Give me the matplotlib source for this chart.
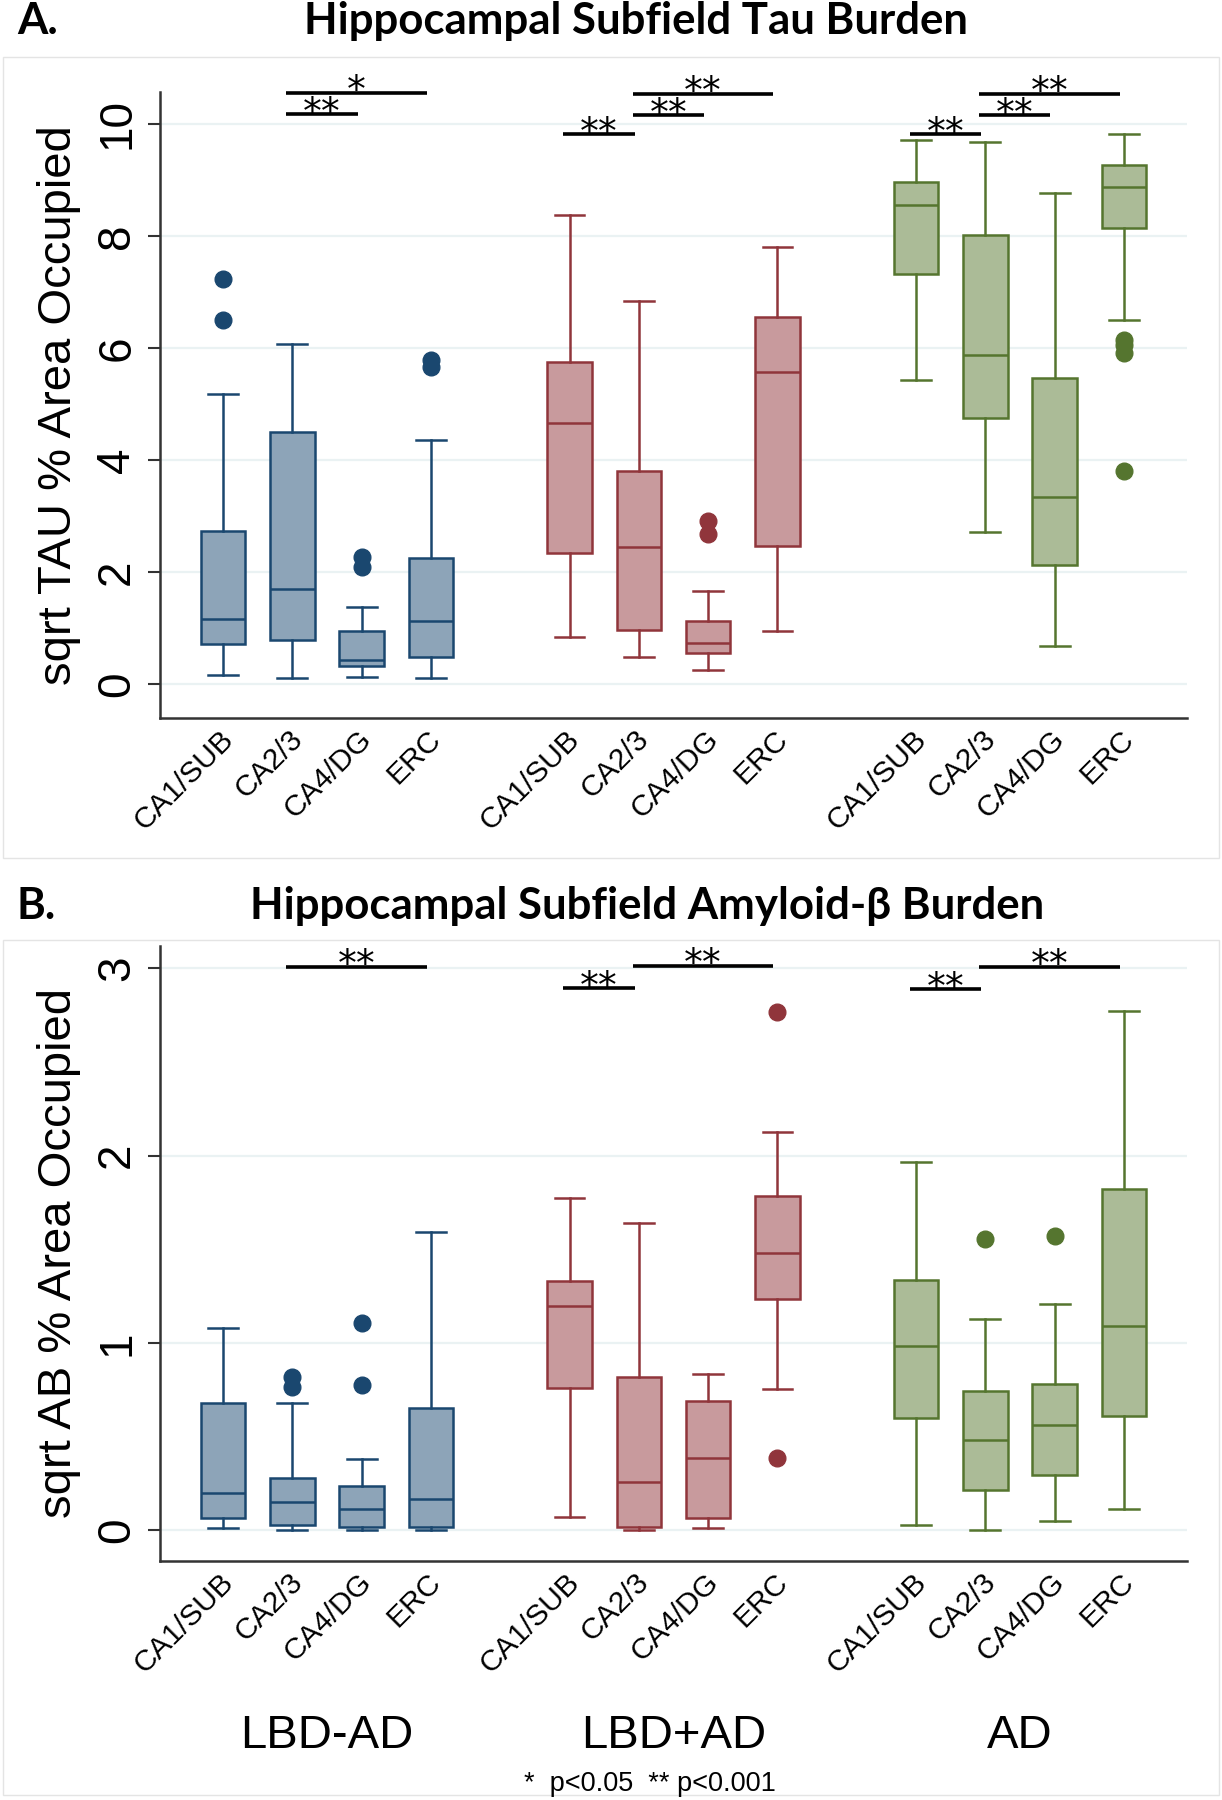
import matplotlib
matplotlib.use("Agg")
import matplotlib.pyplot as plt
import matplotlib.transforms as mtransforms
from matplotlib.patches import Rectangle

regions = ["CA1/SUB", "CA2/3", "CA4/DG", "ERC"]
groups = ["LBD-AD", "LBD+AD", "AD"]
edge_colors = ["#1A476F", "#90353B", "#55752F"]
fill_colors = ["#8DA4B8", "#C89A9D", "#ABBB97"]

# Tau panel, order: LBD-AD x4, LBD+AD x4, AD x4
tau_lo = [0.16, 0.12, 0.14, 0.12, 0.84, 0.48, 0.25, 0.96, 5.43, 2.71, 0.69, 6.51]
tau_q1 = [0.72, 0.80, 0.32, 0.48, 2.35, 0.97, 0.56, 2.47, 7.33, 4.76, 2.13, 8.14]
tau_med = [1.17, 1.71, 0.44, 1.13, 4.66, 2.45, 0.73, 5.58, 8.55, 5.87, 3.35, 8.88]
tau_q3 = [2.73, 4.50, 0.96, 2.25, 5.76, 3.80, 1.13, 6.55, 8.96, 8.01, 5.47, 9.27]
tau_hi = [5.18, 6.07, 1.38, 4.36, 8.37, 6.84, 1.67, 7.81, 9.71, 9.68, 8.76, 9.82]
tau_out = [[6.51, 7.24], [], [2.10, 2.27], [5.67, 5.78],
           [], [], [2.69, 2.91], [],
           [], [], [], [6.15, 6.05, 5.92, 3.80]]

# Amyloid-beta panel
ab_lo = [0.011, 0.0, 0.0, 0.0, 0.072, 0.0, 0.011, 0.754, 0.028, 0.0, 0.05, 0.116]
ab_q1 = [0.066, 0.03, 0.02, 0.02, 0.76, 0.02, 0.066, 1.234, 0.60, 0.214, 0.295, 0.612]
ab_med = [0.20, 0.15, 0.116, 0.168, 1.195, 0.256, 0.387, 1.479, 0.983, 0.48, 0.562, 1.092]
ab_q3 = [0.68, 0.28, 0.234, 0.655, 1.33, 0.82, 0.688, 1.785, 1.337, 0.743, 0.782, 1.82]
ab_hi = [1.08, 0.68, 0.378, 1.595, 1.775, 1.64, 0.837, 2.126, 1.966, 1.13, 1.208, 2.775]
ab_out = [[], [0.765, 0.82], [0.776, 1.108], [],
          [], [], [], [2.77, 0.387],
          [], [1.558], [1.569], []]

# significance bars: (box i, box j, label, height)
tau_bars = [(1, 2, "**", 10.17), (1, 3, "*", 10.56),
            (4, 5, "**", 9.82), (5, 6, "**", 10.16), (5, 7, "**", 10.54),
            (8, 9, "**", 9.82), (9, 10, "**", 10.16), (9, 11, "**", 10.54)]
ab_bars = [(1, 3, "**", 3.01),
           (4, 5, "**", 2.895), (5, 7, "**", 3.015),
           (8, 9, "**", 2.89), (9, 11, "**", 3.01)]

positions = [g * 5 + r for g in range(3) for r in range(4)]
W, H = 1222, 1800

fig = plt.figure(figsize=(12.22, 18), dpi=100)
fig.patch.set_facecolor("white")

# faint outer frames of each graph
for y0, y1 in [(57, 858), (940, 1795)]:
    fig.add_artist(Rectangle((3 / W, 1 - y1 / H), (W - 6) / W, (y1 - y0) / H,
                             transform=fig.transFigure, fill=False,
                             ec="#E4E4E4", lw=1.0))


def draw_panel(rect, lo, q1, med, q3, hi, out, bars, ylim, yticks, ylabel):
    ax = fig.add_axes(rect)
    stats = []
    for i in range(12):
        stats.append(dict(whislo=lo[i], q1=q1[i], med=med[i], q3=q3[i],
                          whishi=hi[i], fliers=out[i]))
    for g in range(3):
        sl = slice(g * 4, g * 4 + 4)
        ec = edge_colors[g]
        ax.bxp(stats[sl], positions=positions[sl], widths=0.645, capwidths=0.43,
               patch_artist=True, manage_ticks=False,
               boxprops=dict(facecolor=fill_colors[g], edgecolor=ec, linewidth=1.8),
               medianprops=dict(color=ec, linewidth=1.8),
               whiskerprops=dict(color=ec, linewidth=1.8),
               capprops=dict(color=ec, linewidth=1.8),
               flierprops=dict(marker="o", markerfacecolor=ec, markeredgecolor=ec,
                               markersize=12, linestyle="none"))
    ax.set_xlim(-0.91, 13.91)
    ax.set_ylim(*ylim)
    ax.set_yticks(yticks)
    ax.set_yticklabels([str(t) for t in yticks], rotation=90, va="center",
                       fontsize=33, family="Liberation Sans")
    ax.yaxis.grid(True, color="#EAF2F3", linewidth=1.6)
    ax.set_axisbelow(True)
    ax.tick_params(axis="y", length=9, width=1.5, color="#333333", pad=6)
    ax.tick_params(axis="x", length=0, pad=5)
    ax.set_xticks(positions)
    labs = ax.set_xticklabels(regions * 3, rotation=45, ha="right", va="top",
                              rotation_mode="anchor", fontsize=21.5,
                              family="Liberation Sans")
    shift = mtransforms.ScaledTranslation(-4 / 100, 0, fig.dpi_scale_trans)
    for t in labs:
        t.set_transform(t.get_transform() + shift)
    for s in ["top", "right"]:
        ax.spines[s].set_visible(False)
    for s in ["left", "bottom"]:
        ax.spines[s].set_color("#333333")
        ax.spines[s].set_linewidth(1.8)
    ax.set_ylabel(ylabel, fontsize=34, family="Liberation Sans", labelpad=10)

    for i, j, lab, h in bars:
        x0 = positions[i] - 0.09
        x1 = positions[j] - 0.06
        ax.plot([x0, x1], [h, h], color="black", linewidth=2.6,
                solid_capstyle="butt", clip_on=False)
        ax.annotate(lab, ((x0 + x1) / 2, h), xytext=(0, -7),
                    textcoords="offset points", ha="center", va="baseline",
                    fontsize=27, family="DejaVu Sans", annotation_clip=False)
    return ax


axA = draw_panel([160 / W, 1 - 718 / H, 1027 / W, 626 / H],
                 tau_lo, tau_q1, tau_med, tau_q3, tau_hi, tau_out, tau_bars,
                 (-0.6, 10.57), [0, 2, 4, 6, 8, 10], "sqrt TAU % Area Occupied")
axB = draw_panel([160 / W, 1 - 1561 / H, 1027 / W, 615 / H],
                 ab_lo, ab_q1, ab_med, ab_q3, ab_hi, ab_out, ab_bars,
                 (-0.164, 3.12), [0, 1, 2, 3], "sqrt AB % Area Occupied")

title_font = dict(family="Lato", weight="bold", fontsize=31.5)
fig.text(17 / W, 1 - 21 / H, "A.", ha="left", va="center", **title_font)
fig.text(636 / W, 1 - 21 / H, "Hippocampal Subfield Tau Burden",
         ha="center", va="center", **title_font)
fig.text(17 / W, 1 - 906 / H, "B.", ha="left", va="center", **title_font)
fig.text(647 / W, 1 - 906 / H, "Hippocampal Subfield Amyloid-\u03b2 Burden",
         ha="center", va="center", **title_font)

group_tr = mtransforms.blended_transform_factory(axB.transData, fig.transFigure)
for g, name in enumerate(groups):
    xc = (positions[g * 4] + positions[g * 4 + 3]) / 2
    axB.text(xc, 1 - 1736 / H, name, transform=group_tr, ha="center",
             va="center", fontsize=34, family="Liberation Sans")

fig.text(650 / W, 1 - 1784 / H, "*  p<0.05  ** p<0.001", ha="center",
         va="center", fontsize=19.5, family="Liberation Sans")

fig.savefig("out.png", dpi=100)
